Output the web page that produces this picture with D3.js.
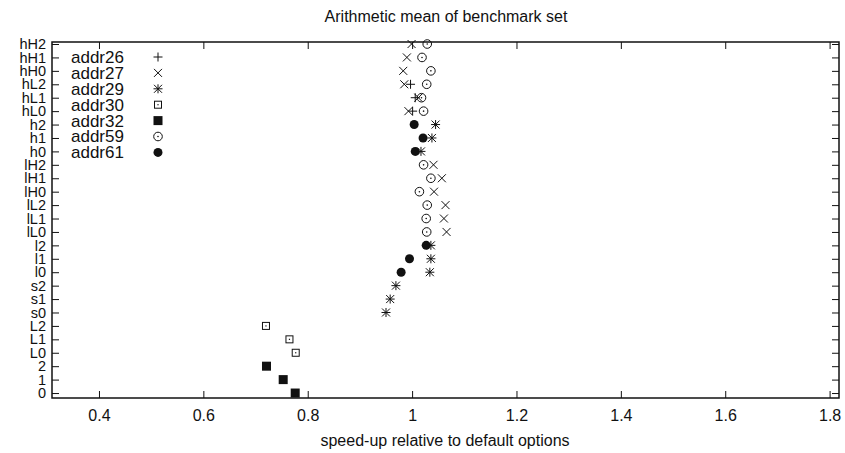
<!DOCTYPE html>
<html>
<head>
<meta charset="utf-8">
<script src="https://cdn.jsdelivr.net/npm/d3@7/dist/d3.min.js"></script>
<style>
  html, body { margin: 0; padding: 0; background: #fff; }
  svg text { font-family: "Liberation Sans", Arial, Helvetica, sans-serif; fill: #111; }
</style>
</head>
<body>
<svg id="chart" width="845" height="453"></svg>
<script>
// Benchmark configurations, bottom to top
const categories = ["0","1","2","L0","L1","L2","s0","s1","s2","l0","l1","l2",
  "lL0","lL1","lL2","lH0","lH1","lH2","h0","h1","h2","hL0","hL1","hL2","hH0","hH1","hH2"];

// Mean speed-up per configuration (null = not measured)
const addr26 = [null,null,null,null,null,null,null,null,null,null,null,null,
  null,null,null,null,null,null,null,null,null,1.001,1.006,0.997,null,null,null];
const addr27 = [null,null,null,null,null,null,null,null,null,null,null,null,
  1.066,1.061,1.064,1.042,1.057,1.041,null,null,null,0.993,1.012,0.985,0.983,0.990,0.999];
const addr29 = [null,null,null,null,null,null,0.950,0.958,0.969,1.034,1.036,1.036,
  null,null,null,null,null,null,1.017,1.038,1.045,null,null,null,null,null,null];
const addr30 = [null,null,null,0.777,0.765,0.720,null,null,null,null,null,null,
  null,null,null,null,null,null,null,null,null,null,null,null,null,null,null];
const addr32 = [0.776,0.753,0.721,null,null,null,null,null,null,null,null,null,
  null,null,null,null,null,null,null,null,null,null,null,null,null,null,null];
const addr59 = [null,null,null,null,null,null,null,null,null,null,null,null,
  1.028,1.027,1.029,1.014,1.036,1.022,null,null,null,1.022,1.018,1.028,1.036,1.019,1.029];
const addr61 = [null,null,null,null,null,null,null,null,null,0.979,0.995,1.027,
  null,null,null,null,null,null,1.006,1.021,1.004,null,null,null,null,null,null];

const xTicks = [0.4, 0.6, 0.8, 1.0, 1.2, 1.4, 1.6, 1.8];
const xTickLabels = ["0.4","0.6","0.8","1","1.2","1.4","1.6","1.8"];

const series = [
  { name: "addr26", values: addr26, marker: "plus" },
  { name: "addr27", values: addr27, marker: "cross" },
  { name: "addr29", values: addr29, marker: "star" },
  { name: "addr30", values: addr30, marker: "boxdot" },
  { name: "addr32", values: addr32, marker: "box" },
  { name: "addr59", values: addr59, marker: "circledot" },
  { name: "addr61", values: addr61, marker: "circle" }
];

const svg = d3.select("#chart");
const ink = "#111";
const L = 52, R = 839, T = 42, B = 398;

const x = d3.scaleLinear().domain([0.31, 1.818]).range([L, R]);
const y = d3.scaleLinear().domain([-0.37, 26.15]).range([B, T]);
const tickLen = 7;

// marker glyphs centered at the origin
function drawMarker(g, type) {
  const s = 4.5;
  switch (type) {
    case "plus":
      g.append("path").attr("d", `M${-s},0H${s}M0,${-s}V${s}`)
        .attr("stroke", ink).attr("fill", "none"); break;
    case "cross":
      g.append("path").attr("d", `M-4,-4L4,4M-4,4L4,-4`)
        .attr("stroke", ink).attr("fill", "none"); break;
    case "star":
      g.append("path").attr("d", `M${-s},0H${s}M0,${-s}V${s}M-4,-4L4,4M-4,4L4,-4`)
        .attr("stroke", ink).attr("fill", "none"); break;
    case "boxdot":
      g.append("rect").attr("x", -3.5).attr("y", -3.5).attr("width", 7).attr("height", 7)
        .attr("stroke", ink).attr("fill", "none");
      g.append("rect").attr("x", -0.6).attr("y", -0.6).attr("width", 1.2).attr("height", 1.2).attr("fill", ink);
      break;
    case "box":
      g.append("rect").attr("x", -4.5).attr("y", -4.5).attr("width", 9).attr("height", 9).attr("fill", ink); break;
    case "circledot":
      g.append("circle").attr("r", 4.3).attr("stroke", ink).attr("fill", "none");
      g.append("circle").attr("r", 0.8).attr("fill", ink); break;
    case "circle":
      g.append("circle").attr("r", 4.5).attr("fill", ink); break;
  }
}

// axes: ticks point inward, mirrored on the opposite side
const xBottom = svg.append("g").attr("transform", `translate(0,${B})`)
  .call(d3.axisBottom(x).tickValues(xTicks).tickSize(-tickLen).tickPadding(12)
    .tickFormat((d, i) => xTickLabels[i]));
const xTop = svg.append("g").attr("transform", `translate(0,${T})`)
  .call(d3.axisTop(x).tickValues(xTicks).tickSize(-tickLen).tickFormat(""));
const yLeft = svg.append("g").attr("transform", `translate(${L},0)`)
  .call(d3.axisLeft(y).tickValues(d3.range(categories.length)).tickSize(-tickLen).tickPadding(12)
    .tickFormat(i => categories[i]));
const yRight = svg.append("g").attr("transform", `translate(${R},0)`)
  .call(d3.axisRight(y).tickValues(d3.range(categories.length)).tickSize(-tickLen).tickFormat(""));

[xBottom, xTop, yLeft, yRight].forEach(a => {
  a.select(".domain").remove();
  a.selectAll(".tick line").attr("stroke", ink).attr("stroke-width", 1);
  a.selectAll("text").attr("font-size", 16).attr("fill", ink)
    .attr("font-family", '"Liberation Sans", Arial, sans-serif');
});
// category labels are packed tightly; a slightly smaller size keeps them apart
yLeft.selectAll("text").attr("dx", 6).attr("font-size", 14.5);

// frame
svg.append("rect").attr("x", L).attr("y", T).attr("width", R - L).attr("height", B - T)
  .attr("fill", "none").attr("stroke", ink).attr("stroke-width", 1.5);

// data points
series.forEach(s => {
  const pts = s.values.map((v, i) => ({ v, i })).filter(d => d.v !== null);
  pts.forEach(d => {
    const g = svg.append("g").attr("transform", `translate(${x(d.v)},${y(d.i)})`);
    drawMarker(g, s.marker);
  });
});

// legend
const legend = svg.append("g");
series.forEach((s, k) => {
  const ly = 57 + k * 15.9;
  legend.append("text").attr("x", 71).attr("y", ly).attr("dy", "0.35em")
    .attr("font-size", 17).text(s.name);
  const g = legend.append("g").attr("transform", `translate(158,${ly})`);
  drawMarker(g, s.marker);
});

// titles
svg.append("text").attr("x", 446).attr("y", 22).attr("text-anchor", "middle")
  .attr("font-size", 16).text("Arithmetic mean of benchmark set");
svg.append("text").attr("x", 445).attr("y", 446).attr("text-anchor", "middle")
  .attr("font-size", 16).text("speed-up relative to default options");
</script>
</body>
</html>
